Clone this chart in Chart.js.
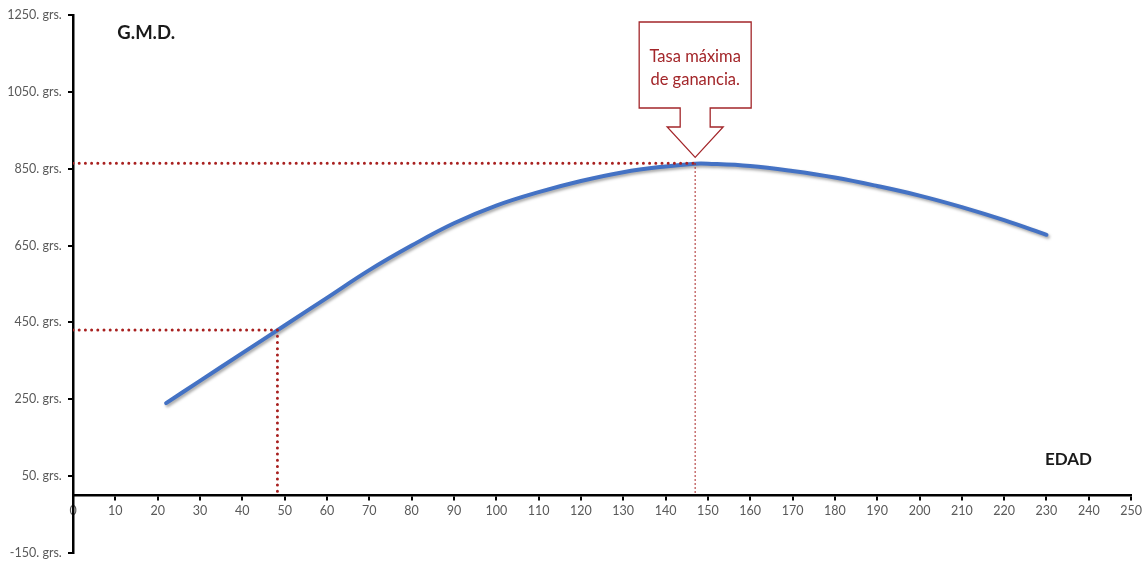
<!DOCTYPE html>
<html>
<head>
<meta charset="utf-8">
<script src="https://cdn.jsdelivr.net/npm/chart.js@4/dist/chart.umd.min.js"></script>
<style>
  html, body { margin: 0; padding: 0; background: #ffffff; }
  #wrap { width: 1146px; height: 561px; position: relative; }
</style>
</head>
<body>
<div id="wrap"><canvas id="c" width="1146" height="561"></canvas></div>
<script>
// Daily weight gain (G.M.D.) by age
const ages = [22, 30, 40, 50, 60, 70, 80, 90, 100, 110, 120, 130, 140, 147, 150, 160, 170, 180, 190, 200, 210, 220, 230];
const gains = [240, 298, 370, 442, 514, 586, 650, 708, 754, 789, 818, 841, 856, 863, 863, 857, 844, 827, 805, 780, 750, 716, 678];

// Reference readings marked with dotted guides
const refAge = [48.3];
const refGain = [430];
const peakAge = [147];
const peakGain = [864];

// Axis ticks
const yTickValues = [-150, 50, 250, 450, 650, 850, 1050, 1250];
const xMin = 0, xMax = 250, xStep = 10;

const calloutLines = ['Tasa máxima', 'de ganancia.'];
const yTitle = 'G.M.D.';
const xTitle = 'EDAD';

const curvePoints = ages.map((a, i) => ({ x: a, y: gains[i] }));
const guideRed = '#a8201f';
const labelGrey = '#595959';
const baseFont = 'Lato, "Open Sans", sans-serif';

// Soft drop shadow under the growth curve
const curveShadow = {
  id: 'curveShadow',
  beforeDatasetDraw(chart, args) {
    if (args.index !== 0) return;
    const ctx = chart.ctx;
    ctx.save();
    ctx.shadowColor = 'rgba(0,0,0,0.35)';
    ctx.shadowBlur = 3;
    ctx.shadowOffsetX = 1.5;
    ctx.shadowOffsetY = 2;
  },
  afterDatasetDraw(chart, args) {
    if (args.index !== 0) return;
    chart.ctx.restore();
  }
};

// Axis titles and the arrow callout pointing at the maximum
const annotations = {
  id: 'annotations',
  afterDatasetsDraw(chart) {
    const ctx = chart.ctx;
    const xs = chart.scales.x, ys = chart.scales.y;
    ctx.save();
    ctx.fillStyle = '#1a1a1a';
    ctx.textAlign = 'center';
    ctx.textBaseline = 'middle';
    ctx.font = 'bold 18.5px ' + baseFont;
    ctx.fillText(yTitle, xs.getPixelForValue(17.3), ys.getPixelForValue(1203));
    ctx.font = 'bold 17px ' + baseFont;
    ctx.fillText(xTitle, xs.getPixelForValue(235.2), ys.getPixelForValue(94));

    // callout box with downward arrow
    const tipX = xs.getPixelForValue(peakAge[0]);
    const tipY = ys.getPixelForValue(peakGain[0]) - 6;
    const boxL = tipX - 56, boxR = tipX + 56, boxT = 22, boxB = 108;
    const shaft = 15, wing = 28, wingY = 127;
    ctx.beginPath();
    ctx.moveTo(boxL, boxT);
    ctx.lineTo(boxR, boxT);
    ctx.lineTo(boxR, boxB);
    ctx.lineTo(tipX + shaft, boxB);
    ctx.lineTo(tipX + shaft, wingY);
    ctx.lineTo(tipX + wing, wingY);
    ctx.lineTo(tipX, tipY);
    ctx.lineTo(tipX - wing, wingY);
    ctx.lineTo(tipX - shaft, wingY);
    ctx.lineTo(tipX - shaft, boxB);
    ctx.lineTo(boxL, boxB);
    ctx.closePath();
    ctx.fillStyle = '#ffffff';
    ctx.fill();
    ctx.strokeStyle = '#a3262a';
    ctx.lineWidth = 1.3;
    ctx.stroke();

    ctx.fillStyle = '#a3262a';
    ctx.font = '16.5px ' + baseFont;
    ctx.fillText(calloutLines[0], tipX, 57);
    ctx.fillText(calloutLines[1], tipX, 80);
    ctx.restore();
  }
};

new Chart(document.getElementById('c'), {
  type: 'line',
  data: {
    datasets: [
      {
        label: 'G.M.D.',
        data: curvePoints,
        borderColor: '#4472c4',
        borderWidth: 4,
        borderCapStyle: 'round',
        pointRadius: 0,
        tension: 0.4,
        order: 3
      },
      {
        data: [{ x: 0, y: peakGain[0] }, { x: peakAge[0], y: peakGain[0] }],
        borderColor: guideRed, borderWidth: 3, borderCapStyle: 'round',
        borderDash: [0, 6.2], pointRadius: 0, order: 1
      },
      {
        data: [{ x: peakAge[0], y: peakGain[0] }, { x: peakAge[0], y: 0 }],
        borderColor: guideRed, borderWidth: 1.3,
        borderDash: [1.5, 2.5], pointRadius: 0, order: 1
      },
      {
        data: [{ x: 0, y: refGain[0] }, { x: refAge[0], y: refGain[0] }],
        borderColor: guideRed, borderWidth: 3, borderCapStyle: 'round',
        borderDash: [0, 6.2], pointRadius: 0, order: 1
      },
      {
        data: [{ x: refAge[0], y: refGain[0] }, { x: refAge[0], y: 0 }],
        borderColor: guideRed, borderWidth: 3, borderCapStyle: 'round',
        borderDash: [0, 6.2], pointRadius: 0, order: 1
      }
    ]
  },
  options: {
    responsive: false,
    animation: false,
    events: [],
    layout: { padding: { left: 0, top: 15, right: 13, bottom: 8 } },
    plugins: { legend: { display: false }, tooltip: { enabled: false } },
    scales: {
      x: {
        type: 'linear',
        position: { y: 0 },
        min: xMin, max: xMax,
        border: { display: true, color: '#000000', width: 2.5 },
        grid: { display: true, drawOnChartArea: false, drawTicks: true, tickLength: 4, color: '#000000', lineWidth: 2 },
        ticks: {
          stepSize: xStep, autoSkip: false, maxRotation: 0, padding: 4,
          color: labelGrey, font: { family: baseFont, size: 12.5 }
        }
      },
      y: {
        type: 'linear',
        position: 'left',
        min: yTickValues[0], max: yTickValues[yTickValues.length - 1],
        afterBuildTicks(scale) { scale.ticks = yTickValues.map(v => ({ value: v })); },
        afterFit(scale) { scale.width = 73; },
        border: { display: true, color: '#000000', width: 2.5 },
        grid: { display: true, drawOnChartArea: false, drawTicks: true, tickLength: 5, color: '#000000', lineWidth: 2 },
        ticks: {
          padding: 0,
          color: labelGrey,
          font: { family: baseFont, size: 12.5 },
          callback: v => v + '. grs.\u2002'
        }
      }
    }
  },
  plugins: [curveShadow, annotations]
});
</script>
</body>
</html>
